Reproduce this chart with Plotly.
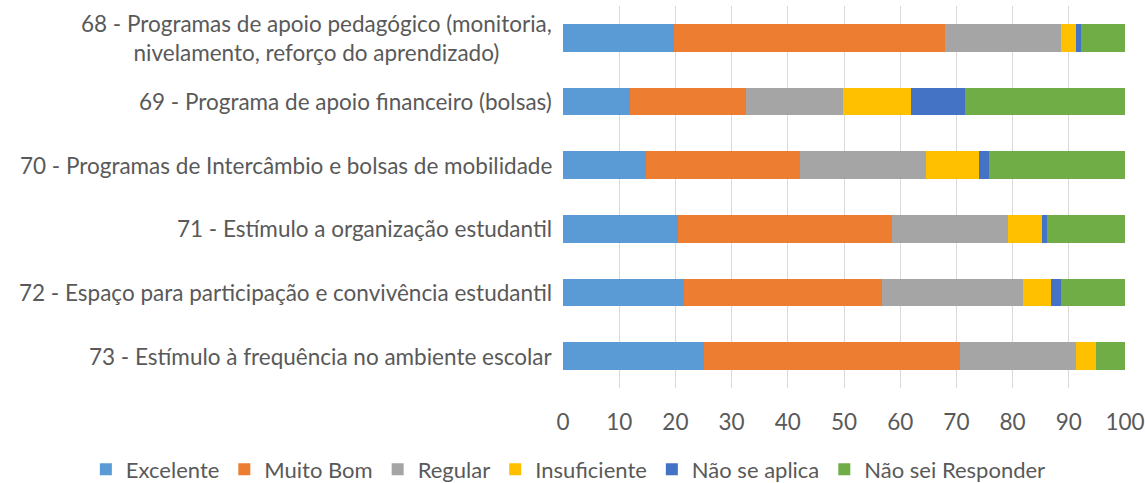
import plotly.graph_objects as go

categories = [
    "68 - Programas de apoio pedagógico (monitoria,<br>nivelamento, reforço do aprendizado)",
    "69 - Programa de apoio financeiro (bolsas)",
    "70 - Programas de Intercâmbio e bolsas de mobilidade",
    "71 - Estímulo a organização estudantil",
    "72 - Espaço para participação e convivência estudantil",
    "73 - Estímulo à frequência no ambiente escolar",
]
series_names = ["Excelente", "Muito Bom", "Regular", "Insuficiente", "Não se aplica", "Não sei Responder"]
excelente = [19.8, 12.0, 14.7, 20.5, 21.5, 25.0]
muito_bom = [48.2, 20.6, 27.5, 38.0, 35.2, 45.6]
regular = [20.7, 17.2, 22.4, 20.6, 25.1, 20.6]
insuficiente = [2.5, 12.1, 9.4, 6.1, 5.1, 3.6]
nao_se_aplica = [0.9, 9.6, 1.8, 0.9, 1.8, 0.0]
nao_sei = [7.9, 28.5, 24.2, 13.9, 11.3, 5.2]
x_ticks = [0, 10, 20, 30, 40, 50, 60, 70, 80, 90, 100]

colors = ["#5B9BD5", "#ED7D31", "#A5A5A5", "#FFC000", "#4472C4", "#70AD47"]
values = [excelente, muito_bom, regular, insuficiente, nao_se_aplica, nao_sei]

FONT = "Lato"
FS = 22.5
TXT = "#595959"
fig = go.Figure()
for name, vals, c in zip(series_names, values, colors):
    fig.add_trace(go.Bar(
        y=categories, x=vals, name=name, orientation="h",
        marker=dict(color=c, line=dict(width=0)),
        hoverinfo="x+name",
    ))

for cat in categories:
    fig.add_annotation(
        x=0, xref="paper", y=cat, yref="y", text=cat, showarrow=False,
        xanchor="right", xshift=-9, align="center",
        font=dict(family=FONT, size=FS, color=TXT),
    )

fig.update_layout(
    barmode="stack",
    bargap=0.57,
    width=1145, height=483,
    margin=dict(l=563, r=20, t=6, b=95, autoexpand=False),
    paper_bgcolor="white", plot_bgcolor="white",
    font=dict(family=FONT, size=FS, color=TXT),
    xaxis=dict(
        range=[0, 100], tickvals=x_ticks, showgrid=True, gridcolor="#D9D9D9",
        gridwidth=1.3, zeroline=False, showline=False, ticks="", automargin=False,
        ticklabelstandoff=18, ticklabeloverflow="allow",
        tickfont=dict(family=FONT, size=FS, color=TXT),
    ),
    yaxis=dict(
        categoryorder="array", categoryarray=categories[::-1], automargin=False,
        showticklabels=False, showgrid=False, zeroline=False, showline=False,
    ),
    legend=dict(
        orientation="h", xref="paper", x=-0.849, xanchor="left",
        yref="paper", y=-0.158, yanchor="top",
        font=dict(family=FONT, size=22, color=TXT),
        traceorder="normal", itemwidth=30,
    ),
)

fig.write_html("out.html", post_script="document.body.style.margin='0';", config={"displayModeBar": False})
